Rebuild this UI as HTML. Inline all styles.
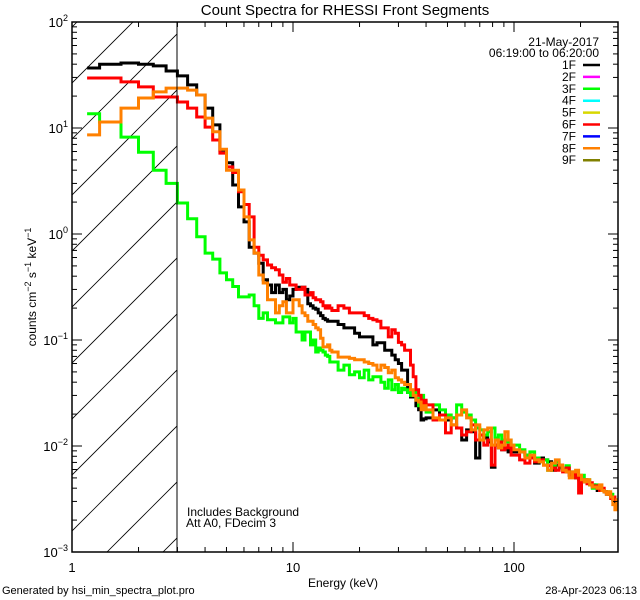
<!DOCTYPE html>
<html><head><meta charset="utf-8"><style>
html,body{margin:0;padding:0;background:#fff;}
svg{display:block;font-family:"Liberation Sans",sans-serif;}
</style></head><body>
<svg id="chart" width="640" height="600" viewBox="0 0 640 600" xmlns="http://www.w3.org/2000/svg">
<defs><clipPath id="plotclip"><rect x="72" y="22" width="546" height="530"/></clipPath></defs>
<rect x="0" y="0" width="640" height="600" fill="#fff"/>
<text x="345" y="15" font-size="15" text-anchor="middle">Count Spectra for RHESSI Front Segments</text>
<g id="hatch" clip-path="url(#plotclip)"></g>
<g id="series" clip-path="url(#plotclip)"></g>
<g id="axes"></g>
<line x1="177" y1="22" x2="177" y2="552" stroke="#000" stroke-width="1"/>
<text transform="translate(36,287) rotate(-90)" font-size="12" text-anchor="middle">counts cm<tspan dy="-5" font-size="9">−2</tspan><tspan dy="5"> s</tspan><tspan dy="-5" font-size="9">−1</tspan><tspan dy="5"> keV</tspan><tspan dy="-5" font-size="9">−1</tspan></text>
<text x="343" y="587" font-size="12" text-anchor="middle">Energy (keV)</text>
<text x="187" y="516" font-size="12">Includes Background</text>
<text x="186" y="527" font-size="12">Att A0, FDecim 3</text>
<text x="2" y="594" font-size="11">Generated by hsi_min_spectra_plot.pro</text>
<text x="637" y="594" font-size="11" text-anchor="end">28-Apr-2023 06:13</text>
<text x="599" y="46" font-size="12" text-anchor="end">21-May-2017</text>
<text x="599" y="57" font-size="12" text-anchor="end">06:19:00 to 06:20:00</text>
<g id="legend"></g>
</svg>
<script>
// ---- data ----
const segNames = ['1F','2F','3F','4F','5F','6F','7F','8F','9F'];
const segColors = ['#000000','#ff00ff','#00ff00','#00ffff','#d8d800','#ff0000','#0000ff','#ff8000','#808000'];
const binStart = 1.17;
const binEnd = 298;
const blackCounts = [36.8,40,41,40,38.5,34.5,31,25.5,20.5,15.4,10.7,6.2,4.7,2.9,1.8,1.3,0.75,0.66,0.53,0.37,0.33,0.28,0.33,0.28,0.30,0.24,0.26,0.30,0.315,0.31,0.315,0.30,0.22,0.21,0.20,0.195,0.18,0.17,0.16,0.155,0.15,0.15,
0.15,0.14,0.13,0.13,0.116,0.107,0.107,0.107,0.09,0.094,0.094,0.08,0.08,0.072,0.065,0.06,0.052,0.052,0.032,0.029,0.029,0.024,0.022,0.0176,0.018,
0.0184,0.0219,0.0196,0.0176,0.0184,0.0148,0.0114,0.0142,0.0136,0.0077,0.0114,0.0119,0.0109,0.0063,0.0102,0.0096,0.0092,0.0096,0.0088,0.0092,
0.0088,0.0088,0.0082,0.0077,0.0069,0.0077,0.0074,0.0071,0.0059,0.0066,0.0062,0.0059,0.0057,0.0053,0.0052,0.0050,0.0050,0.0048,0.0046,0.0045,0.0043,0.0043,0.0041,0.0038,0.0040,0.0038,0.0037,0.0035,0.0035,0.0033,0.0031,0.0029,0.0028];
const greenCounts = [13.6,11.4,8.2,5.9,4.0,3.0,1.96,1.39,0.94,0.66,0.58,0.43,0.37,0.32,0.255,0.255,0.266,0.21,0.16,0.18,0.155,0.155,0.145,0.145,0.165,0.165,0.145,0.16,0.119,0.119,0.10,0.119,0.119,0.09,0.10,0.077,0.084,0.08,0.077,0.072,0.07,0.062,
0.062,0.052,0.058,0.047,0.05,0.044,0.052,0.042,0.045,0.045,0.040,0.035,0.042,0.034,0.038,0.032,0.035,0.034,0.032,0.030,0.032,0.028,0.024,0.030,0.026,
0.0209,0.0244,0.0219,0.0196,0.0184,0.0244,0.0209,0.0196,0.0176,0.0148,0.0142,0.0127,0.0136,0.0148,0.0119,0.0127,0.0114,0.0109,0.0114,0.0102,
0.0102,0.0092,0.0082,0.0088,0.0077,0.0071,0.0074,0.0059,0.0066,0.0071,0.0062,0.0059,0.0065,0.0057,0.0053,0.0050,0.0048,0.0053,0.0046,0.0048,0.0043,0.0040,0.0043,0.0041,0.0038,0.0038,0.0037,0.0037,0.0035,0.0035,0.0033,0.0031,0.0031];
const redCounts = [29.6,29.6,27.2,24.4,19.6,19.6,17.6,15.4,12.7,10.2,7.7,5.8,4.3,3.8,2.5,1.9,1.45,0.75,0.63,0.57,0.51,0.48,0.46,0.41,0.35,0.38,0.33,0.33,0.30,0.30,0.315,0.266,0.266,0.28,0.25,0.24,0.24,0.23,0.21,0.20,0.21,0.20,
0.19,0.21,0.20,0.18,0.18,0.18,0.17,0.16,0.155,0.15,0.13,0.13,0.107,0.125,0.116,0.095,0.09,0.08,0.08,0.058,0.045,0.034,0.030,0.024,0.027,
0.0244,0.0176,0.0196,0.0133,0.0158,0.0148,0.0127,0.0136,0.0158,0.0114,0.0127,0.0102,0.0114,0.0066,0.0102,0.0109,0.0092,0.0096,0.0102,0.0082,
0.0082,0.0074,0.0069,0.0077,0.0071,0.0074,0.0066,0.0065,0.0062,0.0059,0.0066,0.0057,0.0062,0.0053,0.0054,0.0050,0.0036,0.0046,0.0048,0.0044,0.0045,0.0041,0.0042,0.0040,0.0038,0.0040,0.0037,0.0036,0.0035,0.0032,0.0033,0.0031,0.0030];
const orangeCounts = [8.6,11.4,15.4,19.2,21.9,23.8,23.8,22.8,20.5,12.4,9.2,6.3,4.0,4.0,2.6,1.45,0.88,0.66,0.41,0.345,0.24,0.24,0.18,0.21,0.23,0.18,0.18,0.24,0.24,0.21,0.18,0.17,0.15,0.15,0.14,0.13,0.125,0.104,0.086,0.086,0.09,0.08,
0.077,0.069,0.069,0.067,0.065,0.065,0.062,0.06,0.058,0.052,0.058,0.055,0.049,0.052,0.044,0.042,0.040,0.038,0.038,0.034,0.030,0.027,0.026,0.022,0.024,
0.0219,0.0184,0.0176,0.0184,0.0158,0.0196,0.0219,0.0184,0.0142,0.0158,0.0114,0.0142,0.0148,0.0102,0.0114,0.0096,0.0102,0.0136,0.0114,0.0102,
0.0092,0.0088,0.0077,0.0082,0.0074,0.0071,0.0066,0.0059,0.0069,0.0074,0.0066,0.0059,0.0057,0.0050,0.0057,0.0059,0.0053,0.0048,0.0046,0.0048,0.0043,0.0041,0.0041,0.0040,0.0043,0.0038,0.0037,0.0035,0.0037,0.0033,0.0028,0.0025,0.0031];
const xTickLabels = ['1','10','100'];
const yTickExps = ['2','1','0','−1','−2','−3'];

// ---- axes ----
const PL=72, PR=618, PT=22, PB=552;
const XMIN=0, XDEC=221;          // log10(E)=0 at PL
const YMAX=2, YMIN=-3;
function xs(e){ return PL + (Math.log10(e)-XMIN)*XDEC; }
function ys(v){ return PT + (YMAX-Math.log10(v))/(YMAX-YMIN)*(PB-PT); }

// energy bin edges: 1/3 keV to 15, 1 keV to 40, 3 keV to 100, 6 keV above
const edges=[];
for(let i=0;i<=42;i++) edges.push(1+i/3);
edges[0]=binStart;
for(let e=16;e<=40;e++) edges.push(e);
for(let e=43;e<=100;e+=3) edges.push(e);
for(let e=106;e<=binEnd;e+=6) edges.push(e);

const NS='http://www.w3.org/2000/svg';
function mk(tag,attrs,parent){const el=document.createElementNS(NS,tag);for(const k in attrs)el.setAttribute(k,attrs[k]);parent.appendChild(el);return el;}

// hatch
const hatch=document.getElementById('hatch');
for(let c=43;c<800;c+=56){
  const l=mk('line',{x1:c-PT-600,y1:PT+600,x2:c-PT,y2:PT,stroke:'#000','stroke-width':0.8},hatch);
  
  
}
// clip hatch to left region
hatch.setAttribute('clip-path','url(#hatchclip)');
const defs=document.querySelector('defs');
const hc=mk('clipPath',{id:'hatchclip'},defs);
mk('rect',{x:PL,y:PT,width:177-PL,height:PB-PT},hc);

// series
const sg=document.getElementById('series');
function drawSeries(vals,color,name){
  let d='';
  for(let i=0;i<vals.length&&i<edges.length-1;i++){
    const x0=xs(edges[i]),x1=xs(edges[i+1]),y=ys(vals[i]);
    d+=(i===0?'M':'L')+x0.toFixed(1)+','+y.toFixed(1)+'L'+x1.toFixed(1)+','+y.toFixed(1);
  }
  const p=mk('path',{d:d,fill:'none',stroke:color,'stroke-width':3,'stroke-linejoin':'miter'},sg);
  
  
}
drawSeries(blackCounts,segColors[0],'series-1f');
drawSeries(greenCounts,segColors[2],'series-3f');
drawSeries(redCounts,segColors[5],'series-6f');
drawSeries(orangeCounts,segColors[7],'series-8f');

// axes box + ticks
const ax=document.getElementById('axes');
const box=mk('rect',{x:PL,y:PT,width:PR-PL,height:PB-PT,fill:'none',stroke:'#000','stroke-width':1.5},ax);


// x ticks
for(let dec=0;dec<=2;dec++){
  for(let m=1;m<=9;m++){
    const e=m*Math.pow(10,dec); const x=xs(e); if(x>PR+0.5) continue;
    const len=m===1?10:5;
    mk('line',{x1:x,y1:PB,x2:x,y2:PB-len,stroke:'#000','stroke-width':1},ax);
    mk('line',{x1:x,y1:PT,x2:x,y2:PT+len,stroke:'#000','stroke-width':1},ax);
  }
  const t=mk('text',{x:xs(Math.pow(10,dec)),y:572,'font-size':13,'text-anchor':'middle'},ax);
  t.textContent=xTickLabels[dec];
  
  
}
// y ticks
for(let k=0;k<yTickExps.length;k++){
  const p=YMAX-k; const y=ys(Math.pow(10,p));
  mk('line',{x1:PL,y1:y,x2:PL+10,y2:y,stroke:'#000','stroke-width':1},ax);
  mk('line',{x1:PR,y1:y,x2:PR-10,y2:y,stroke:'#000','stroke-width':1},ax);
  if(p>YMIN){
    for(let m=2;m<=9;m++){
      const yy=ys(m*Math.pow(10,p-1));
      mk('line',{x1:PL,y1:yy,x2:PL+5,y2:yy,stroke:'#000','stroke-width':1},ax);
      mk('line',{x1:PR,y1:yy,x2:PR-5,y2:yy,stroke:'#000','stroke-width':1},ax);
    }
  }
  const t=mk('text',{x:PL-4,y:y+5,'font-size':13,'text-anchor':'end'},ax);
  
  
  const a=document.createElementNS(NS,'tspan'); a.textContent='10'; t.appendChild(a);
  const b=document.createElementNS(NS,'tspan'); b.setAttribute('dy','-6'); b.setAttribute('font-size','9'); b.textContent=yTickExps[k]; t.appendChild(b);
}

// legend
const lg=document.getElementById('legend');
for(let i=0;i<segNames.length;i++){
  const y=65+i*11.9;
  const t=mk('text',{x:576,y:y+4,'font-size':12,'text-anchor':'end'},lg);
  t.textContent=segNames[i];
  
  
  const l=mk('line',{x1:583,y1:y,x2:600,y2:y,stroke:segColors[i],'stroke-width':2.5},lg);
  
  
}
</script>
</body></html>
